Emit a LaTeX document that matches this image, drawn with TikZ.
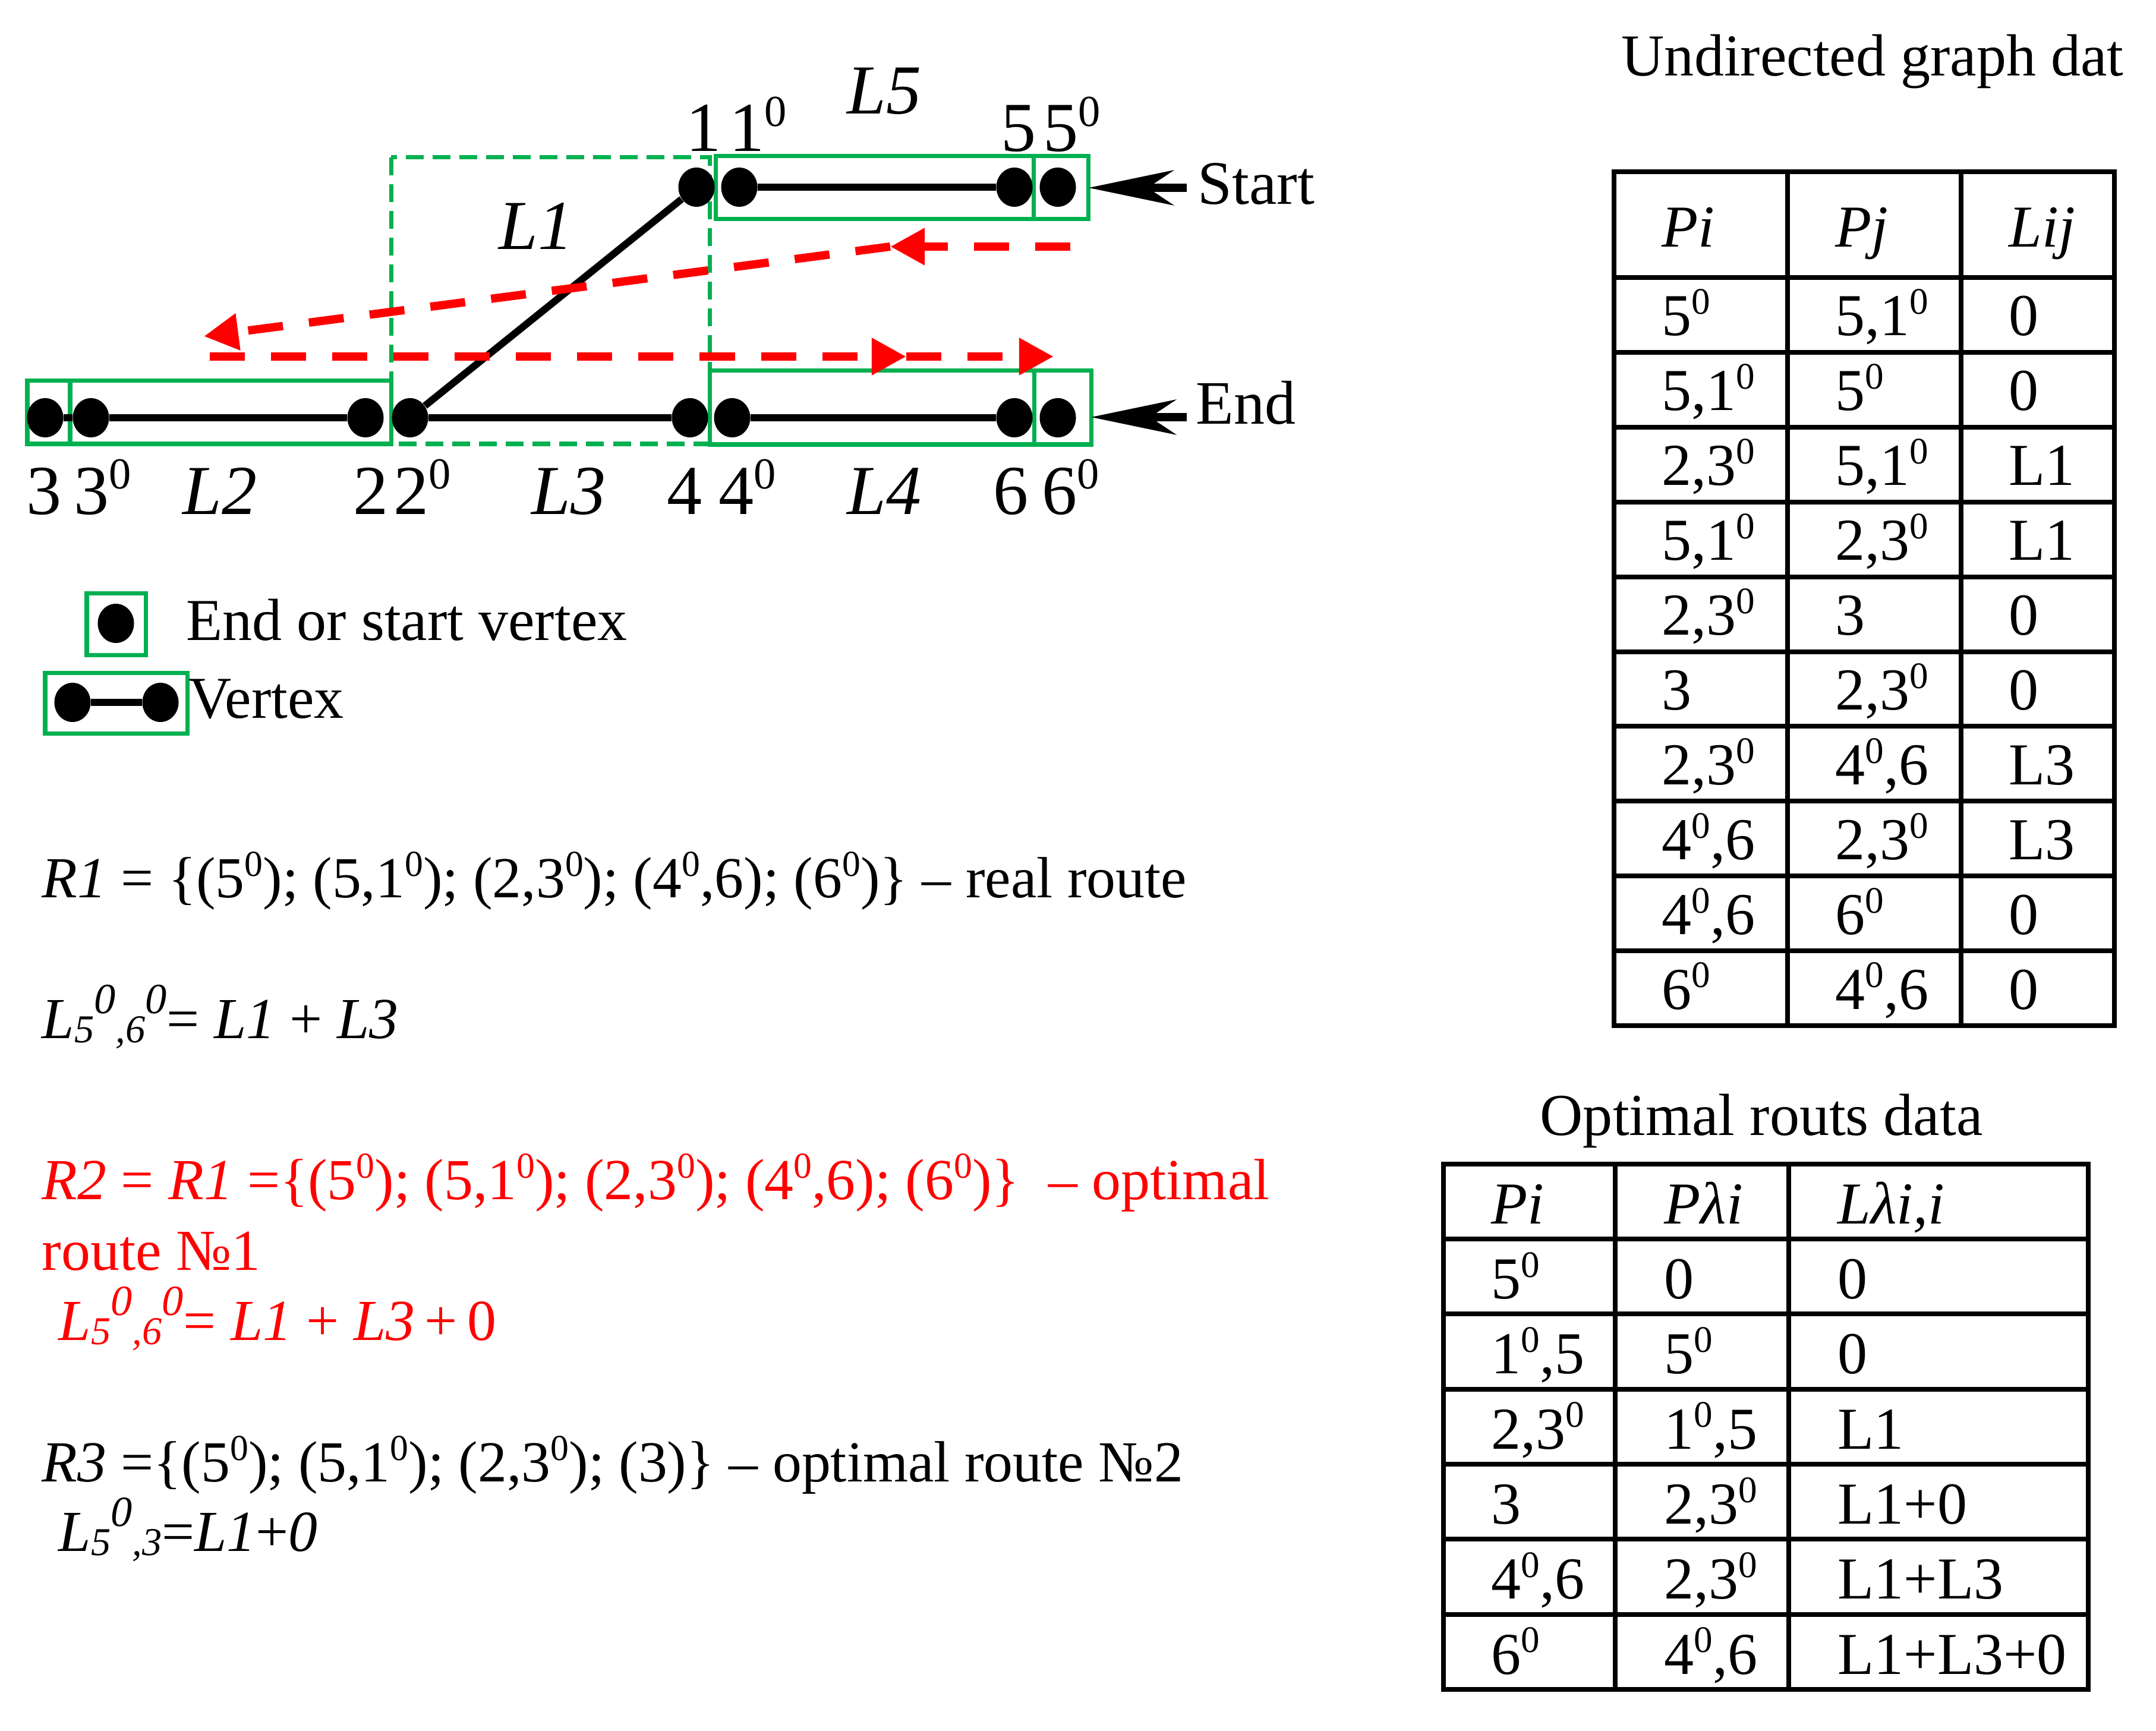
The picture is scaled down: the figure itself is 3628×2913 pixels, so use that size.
\documentclass[tikz,border=0pt]{standalone}
\usepackage{fontspec}
\setmainfont{Liberation Serif}
\usepackage{graphicx}
\usetikzlibrary{arrows.meta,shapes.geometric}
\definecolor{gr}{RGB}{0,176,80}
\newcommand\supr[1]{\raisebox{0.36em}{\scalebox{0.63}{#1}}}
\newcommand\supf[1]{\raisebox{0.42em}{\scalebox{0.74}{#1}}}
\newcommand\subr[1]{\raisebox{-0.08em}{\scalebox{0.68}{#1}}}
\begin{document}
\begin{tikzpicture}[x=0.01cm,y=-0.01cm,
  dot/.style={ellipse,fill=black,minimum width=0.61cm,minimum height=0.66cm,inner sep=0pt},
  edge/.style={line width=0.12cm},
  gbox/.style={draw=gr,line width=0.07cm},
  gdash/.style={draw=gr,line width=0.07cm,dash pattern=on 0.3cm off 0.15cm},
  route/.style={red,line width=0.14cm,dash pattern=on 0.59cm off 0.44cm,-{Triangle[length=0.58cm,width=0.59cm]}},
  ptr/.style={line width=0.14cm,-{Stealth[length=1.43cm,width=0.59cm,inset=0.44cm]}},
  lab/.style={anchor=base west,inner sep=0pt,font=\fontsize{33.6}{40}\selectfont},
  se/.style={anchor=base west,inner sep=0pt,font=\fontsize{29.6}{36}\selectfont},
  txt/.style={anchor=base west,inner sep=0pt,font=\fontsize{28.45}{34}\selectfont},
  rtxt/.style={anchor=base west,inner sep=0pt,font=\fontsize{27.8}{34}\selectfont},
  tline/.style={line width=0.08cm}]
\useasboundingbox[fill=white] (0,0) rectangle (3628,2913);

% ---------- green frames ----------
\draw[gdash] (658,265) rectangle (1194,747);
\draw[gbox] (46,641) rectangle (658,747);
\draw[gbox] (118,641) -- (118,747);
\draw[gbox] (1204,263) rectangle (1831,369);
\draw[gbox] (1739,263) -- (1739,369);
\draw[gbox] (1194,624) rectangle (1836,748);
\draw[gbox] (1740,624) -- (1740,748);

% ---------- vertices ----------
\node[dot] (v3)  at (76,703) {};
\node[dot] (v30) at (153,703) {};
\node[dot] (v2)  at (615,703) {};
\node[dot] (v20) at (690,703) {};
\node[dot] (v4)  at (1161,703) {};
\node[dot] (v40) at (1232,703) {};
\node[dot] (v6)  at (1707,703) {};
\node[dot] (v60) at (1780,703) {};
\node[dot] (v1)  at (1172,315) {};
\node[dot] (v10) at (1244,315) {};
\node[dot] (v5)  at (1707,315) {};
\node[dot] (v50) at (1780,315) {};

\draw[edge] (v3) -- (v30);
\draw[edge] (v30) -- (v2);
\draw[edge] (v20) -- (v4);
\draw[edge] (v40) -- (v6);
\draw[edge] (v10) -- (v5);
\draw[edge] (v20) -- (v1);

% ---------- red routes ----------
\coordinate (ra) at (1801,415);
\coordinate (rb) at (1498,415);
\coordinate (rc) at (343,566);
\coordinate (rd) at (353,600);
\coordinate (re) at (1525,600);
\coordinate (rf) at (1773,600);
\draw[route] (ra) -- (rb);
\draw[route] (rb) -- (rc);
\draw[route] (rd) -- (re);
\draw[route] (re) -- (rf);

% ---------- start / end pointers ----------
\coordinate (stail) at (1997,316);
\coordinate (stip) at (1832,316);
\coordinate (etail) at (1997,702);
\coordinate (etip) at (1836,702);
\draw[ptr] (stail) -- (stip);
\draw[ptr] (etail) -- (etip);
\node[se] (start) at (2015,344) {Start};
\node[se] (end) at (2012,714) {End};

% ---------- labels ----------
\node[lab] (l3)  at (44,865) {3};
\node[lab] (l30) at (124,865) {3\supr{0}};
\node[lab] (lL2) at (307,865) {\textit{L2}};
\node[lab] (l2)  at (594,865) {2};
\node[lab] (l20) at (662,865) {2\supr{0}};
\node[lab] (lL3) at (894,865) {\textit{L3}};
\node[lab] (l4)  at (1122,865) {4};
\node[lab] (l40) at (1209,865) {4\supr{0}};
\node[lab] (lL4) at (1425,865) {\textit{L4}};
\node[lab] (l6)  at (1671,865) {6};
\node[lab] (l60) at (1753,865) {6\supr{0}};
\node[lab] (l1)  at (1154,255) {1};
\node[lab] (l10) at (1227,255) {1\supr{0}};
\node[lab] (l5)  at (1684,255) {5};
\node[lab] (l50) at (1755,255) {5\supr{0}};
\node[lab] (lL5) at (1425,192) {\textit{L5}};
\node[lab] (lL1) at (839,420) {\textit{L1}};

% ---------- legend ----------
\draw[gbox] (146,998) rectangle (245,1102);
\node[dot] (g1) at (195,1049) {};
\draw[gbox] (76,1132) rectangle (315,1234);
\node[dot] (g2) at (122,1182) {};
\node[dot] (g3) at (270,1182) {};
\draw[edge] (g2) -- (g3);
\node[txt] (leg1) at (313,1077) {End or start vertex};
\node[txt] (leg2) at (317,1208) {Vertex};

% ---------- route texts ----------
\node[rtxt] (r1) at (70,1510) {\textit{R1} = \{(5\supr{0}); (5,1\supr{0}); (2,3\supr{0}); (4\supr{0},6); (6\supr{0})\} – real route};
\node[rtxt] (f1) at (70,1747) {\textit{L}\subr{\textit{5}}\supf{\textit{0}}\subr{\textit{,6}}\supf{\textit{0}}= \textit{L1} + \textit{L3}};
\node[rtxt,text=red] (r2) at (70,2018) {\textit{R2} = \textit{R1} =\{(5\supr{0}); (5,1\supr{0}); (2,3\supr{0}); (4\supr{0},6); (6\supr{0})\}\ \ – optimal};
\node[rtxt,text=red] (r2b) at (70,2137) {route №1};
\node[rtxt,text=red] (f2) at (98,2255) {\textit{L}\subr{\textit{5}}\supf{\textit{0}}\subr{\textit{,6}}\supf{\textit{0}}= \textit{L1} + \textit{L3}\,+\,0};
\node[rtxt] (r3) at (70,2493) {\textit{R3} =\{(5\supr{0}); (5,1\supr{0}); (2,3\supr{0}); (3)\} – optimal route №2};
\node[rtxt] (f3) at (98,2610) {\textit{L}\subr{\textit{5}}\supf{\textit{0}}\subr{\textit{,3}}=\textit{L1}+\textit{0}};

% ---------- table 1 ----------
\node[txt] (t1title) at (2728,128) {Undirected graph dat};
\draw[tline] (2716,289) rectangle (3558,1726);
\draw[tline] (3008,289) -- (3008,1726);
\draw[tline] (3300,289) -- (3300,1726);
\foreach \k in {0,...,9} \draw[tline] (2716,{467+\k*125.9}) -- (3558,{467+\k*125.9});
\node[txt] (t1h1) at (2796,416) {\textit{Pi}};
\node[txt] (t1h2) at (3088,416) {\textit{Pj}};
\node[txt] (t1h3) at (3380,416) {\textit{Lij}};
\foreach \r/\a/\b/\c in {
  1/{5\supr{0}}/{5,1\supr{0}}/{0},
  2/{5,1\supr{0}}/{5\supr{0}}/{0},
  3/{2,3\supr{0}}/{5,1\supr{0}}/{L1},
  4/{5,1\supr{0}}/{2,3\supr{0}}/{L1},
  5/{2,3\supr{0}}/{3}/{0},
  6/{3}/{2,3\supr{0}}/{0},
  7/{2,3\supr{0}}/{4\supr{0},6}/{L3},
  8/{4\supr{0},6}/{2,3\supr{0}}/{L3},
  9/{4\supr{0},6}/{6\supr{0}}/{0},
  10/{6\supr{0}}/{4\supr{0},6}/{0}} {
  \node[txt] (t1r\r a) at (2796,{467+\r*125.9-28}) {\a};
  \node[txt] (t1r\r b) at (3088,{467+\r*125.9-28}) {\b};
  \node[txt] (t1r\r c) at (3380,{467+\r*125.9-28}) {\c};
}

% ---------- table 2 ----------
\node[txt] (t2title) at (2591,1910) {Optimal routs data};
\draw[tline] (2429,1959) rectangle (3514,2843);
\draw[tline] (2718,1959) -- (2718,2843);
\draw[tline] (3010,1959) -- (3010,2843);
\foreach \k in {0,...,5} \draw[tline] (2429,{2085+\k*126.33}) -- (3514,{2085+\k*126.33});
\node[txt] (t2h1) at (2509,2059) {\textit{Pi}};
\node[txt] (t2h2) at (2800,2059) {\textit{Pλi}};
\node[txt] (t2h3) at (3092,2059) {\textit{Lλi,i}};
\foreach \r/\a/\b/\c in {
  1/{5\supr{0}}/{0}/{0},
  2/{1\supr{0},5}/{5\supr{0}}/{0},
  3/{2,3\supr{0}}/{1\supr{0},5}/{L1},
  4/{3}/{2,3\supr{0}}/{L1+0},
  5/{4\supr{0},6}/{2,3\supr{0}}/{L1+L3},
  6/{6\supr{0}}/{4\supr{0},6}/{L1+L3+0}} {
  \node[txt] (t2r\r a) at (2509,{2085+\r*126.33-26}) {\a};
  \node[txt] (t2r\r b) at (3092-292,{2085+\r*126.33-26}) {\b};
  \node[txt] (t2r\r c) at (3092,{2085+\r*126.33-26}) {\c};
}
\end{tikzpicture}
\end{document}
